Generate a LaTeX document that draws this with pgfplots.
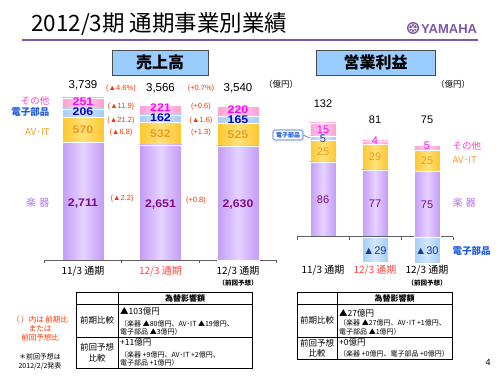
\documentclass[border=0pt]{standalone}
\usepackage{pgfplots}
\pgfplotsset{compat=1.18}
\usepackage{fontspec}
\setmainfont{Liberation Sans}
\newfontfamily\jp{Noto Sans CJK JP}
\newfontfamily\wide[FakeStretch=1.12]{Liberation Sans}
\newcommand\fs[1]{\fontsize{#1pt}{#1pt}\selectfont}
\definecolor{gakkiL}{HTML}{E6D2FF}
\definecolor{gakkiD}{HTML}{C39BF5}
\definecolor{avL}{HTML}{FFE27A}
\definecolor{avD}{HTML}{FFC62E}
\definecolor{elecL}{HTML}{D2E8FF}
\definecolor{elecD}{HTML}{A6CCF7}
\definecolor{othL}{HTML}{FFD2EC}
\definecolor{othD}{HTML}{FF9FD2}
\definecolor{numpurple}{HTML}{7A0A8C}
\definecolor{numblue}{HTML}{0000CC}
\definecolor{opblue}{HTML}{1A3A9A}
\definecolor{numorange}{HTML}{EE9A1E}
\definecolor{nummag}{HTML}{FF00FF}
\definecolor{labpink}{HTML}{FF44CC}
\definecolor{labblue}{HTML}{1E5AE6}
\definecolor{laborange}{HTML}{F5A030}
\definecolor{labpurple}{HTML}{B070F0}
\definecolor{redpct}{HTML}{FF3300}
\definecolor{redcat}{HTML}{FF4848}
\definecolor{axisgray}{HTML}{606060}
\definecolor{yampurple}{HTML}{7E57A8}
\definecolor{boxblue}{HTML}{99CCFF}
\pgfplotsset{
  salesax/.style={at={(44.25pt,115pt)}, anchor=south west, x=77.5pt, y=0.0434pt,
    xmin=-0.5, xmax=2.5, ymin=0, ymax=4100, ybar stacked, bar width=42pt, clip=false},
  opax/.style={at={(297pt,138.3pt)}, anchor=south west, x=52pt, y=0.87pt,
    xmin=-0.5, xmax=2.5, ymin=0, ymax=160, ybar stacked, bar width=26pt, clip=false},
  hidden/.style={axis lines=none},
  shown/.style={axis x line*=bottom, axis y line=none, xtick={-0.5,0.5,1.5,2.5}, xticklabels={},
    tick align=outside, major tick length=3pt,
    x axis line style={draw=axisgray, line width=0.8pt},
    xtick style={draw=axisgray, line width=0.8pt}},
  gakki/.style={draw=white, line width=0.3pt, left color=gakkiD, right color=gakkiD, middle color=gakkiL},
  av/.style={draw=white, line width=0.3pt, left color=avD, right color=avD, middle color=avL},
  elec/.style={draw=white, line width=0.3pt, left color=elecD, right color=elecD, middle color=elecL},
  oth/.style={draw=white, line width=0.3pt, left color=othD, right color=othD, middle color=othL},
}
\begin{document}
\begin{tikzpicture}
\fill[white] (0,0) rectangle (500pt,375pt);
\useasboundingbox (0,0) rectangle (500pt,375pt);

% ---------------- Sales chart: one axis per bar (per-bar shading) ----------------
\begin{axis}[salesax, hidden]
\addplot[gakki] coordinates {(0,2711)};
\addplot[av]    coordinates {(0,570)};
\addplot[elec]  coordinates {(0,206)};
\addplot[oth]   coordinates {(0,251)};
\end{axis}
\begin{axis}[salesax, hidden]
\addplot[gakki] coordinates {(1,2651)};
\addplot[av]    coordinates {(1,532)};
\addplot[elec]  coordinates {(1,162)};
\addplot[oth]   coordinates {(1,221)};
\end{axis}
\begin{axis}[salesax, shown]
\addplot[gakki] coordinates {(2,2630)};
\addplot[av]    coordinates {(2,525)};
\addplot[elec]  coordinates {(2,165)};
\addplot[oth]   coordinates {(2,220)};
\end{axis}

% ---------------- Operating profit: negative bars ----------------
\begin{axis}[at={(297pt,138.3pt)}, anchor=north west, x=52pt, y=0.87pt,
  xmin=-0.5, xmax=2.5, ymin=-40, ymax=0,
  axis lines=none, ybar, bar width=26pt, bar shift=0pt, clip=false]
\addplot[elec] coordinates {(1,-29)};
\addplot[elec] coordinates {(2,-30)};
\end{axis}

% ---------------- Operating profit: positive stacks ----------------
\begin{axis}[opax, hidden]
\addplot[gakki] coordinates {(0,86)};
\addplot[av]    coordinates {(0,25)};
\addplot[elec]  coordinates {(0,5)};
\addplot[oth]   coordinates {(0,15)};
\end{axis}
\begin{axis}[opax, hidden]
\addplot[gakki] coordinates {(1,77)};
\addplot[av]    coordinates {(1,29)};
\addplot[oth]   coordinates {(1,4)};
\end{axis}
\begin{axis}[opax, shown]
\addplot[gakki] coordinates {(2,75)};
\addplot[av]    coordinates {(2,25)};
\addplot[oth]   coordinates {(2,5)};
\end{axis}

% ---------------- Text and decorations (pixel coordinates) ----------------
\begin{scope}[yshift=375pt, x=1pt, y=-1pt]
% title
\node[anchor=west, font=\jp\fs{22.5}, inner sep=0] at (31,24.5) {2012/3期 通期事業別業績};
\draw[line width=2pt, yampurple] (22,40) -- (478,40);
% logo
\fill[yampurple] (413,28) circle (6);
\draw[white, line width=0.5pt] (413,28) circle (4.3);
\foreach \a in {0,60,120} \draw[white, line width=0.6pt] ([shift={(413,28)}]\a:4.3) -- ([shift={(413,28)}]\a+180:4.3);
\node[anchor=west, font=\bfseries\fs{13}, text=yampurple, inner sep=0] at (421,29) {YAMAHA};
% heading boxes
\draw[fill=boxblue, draw=black!70, line width=0.8pt] (112,50) rectangle (208,75);
\node[font=\jp\bfseries\fs{16}] at (160,62.5) {売上高};
\draw[fill=boxblue, draw=black!70, line width=0.8pt] (316,50) rectangle (435,75);
\node[font=\jp\bfseries\fs{16}] at (375.5,62.5) {営業利益};
% units
\node[font=\jp\fs{8.5}] at (281,84) {（億円）};
\node[font=\jp\fs{8.5}] at (453,84) {（億円）};
% sales segment labels
\begin{scope}[every node/.style={font=\wide\bfseries\fs{11}, inner sep=0}]
\node[text=numpurple] at (83,204) {2,711};
\node[text=numpurple] at (160.5,205) {2,651};
\node[text=numpurple] at (238,205) {2,630};
\node[text=numorange] at (83,130) {570};
\node[text=numorange] at (160.5,134) {532};
\node[text=numorange] at (238,135) {525};
\node[text=numblue] at (83,112) {206};
\node[text=numblue] at (160.5,118) {162};
\node[text=numblue] at (238,119.5) {165};
\node[text=nummag] at (83,101.5) {251};
\node[text=nummag] at (160.5,107.5) {221};
\node[text=nummag] at (238,110) {220};
\end{scope}
\node[font=\fs{11.5}] at (83,85) {3,739};
\node[font=\fs{11.5}] at (160.5,88) {3,566};
\node[font=\fs{11.5}] at (238,88) {3,540};
% operating profit labels
\begin{scope}[every node/.style={font=\fs{11}, inner sep=0}]
\node[text=numpurple] at (323,200) {86};
\node[text=numpurple] at (375,204) {77};
\node[text=numpurple] at (427,205) {75};
\node[text=numorange] at (323,152) {25};
\node[text=numorange] at (375,157) {29};
\node[text=numorange] at (427,161) {25};
\node[text=opblue] at (323,139) {5};
\node[text=nummag] at (323,129.5) {15};
\node[text=nummag] at (375,141) {4};
\node[text=nummag] at (427,146) {5};
\node at (323,104) {132};
\node at (375,120) {81};
\node at (427,120) {75};
\node[text=opblue] at (375,251) {▲29};
\node[text=opblue] at (427,251) {▲30};
\end{scope}
% left legend
\node[anchor=east, font=\jp\fs{9.5}, text=labpink] at (53,101) {その他};
\node[anchor=east, font=\jp\bfseries\fs{9.5}, text=labblue] at (53,112) {電子部品};
\node[anchor=east, font=\jp\fs{9.5}, text=laborange] at (53,132) {AV･IT};
\node[anchor=east, font=\jp\fs{10}, text=labpurple] at (53,203) {楽\,\,器};
% right legend
\node[anchor=west, font=\jp\fs{9.5}, text=labpink] at (449,146) {その他};
\node[anchor=west, font=\jp\fs{9.5}, text=laborange] at (449,160) {AV･IT};
\node[anchor=west, font=\jp\fs{10}, text=labpurple] at (449,203) {楽\,\,器};
\node[anchor=west, font=\jp\bfseries\fs{9.5}, text=labblue] at (449,251) {電子部品};
% callout
\draw[labblue, line width=0.5pt] (303,135) -- (310,138);
\draw[draw=labblue, fill=white, rounded corners=1.5pt, line width=0.6pt] (273,130) rectangle (303,140);
\node[font=\jp\bfseries\fs{6}, text=labblue] at (288,135) {電子部品};
% percentage labels
\begin{scope}[every node/.style={font=\fs{7.5}, text=redpct}]
\node at (121,89) {(▲4.6\%)};
\node at (121,107) {(▲11.9)};
\node at (121,121) {(▲21.2)};
\node at (121,133) {(▲6.8)};
\node at (122,199) {(▲2.2)};
\node at (201,89) {(+0.7\%)};
\node at (201,107) {(+0.6)};
\node at (201,121) {(▲1.6)};
\node at (201,133) {(+1.3)};
\node at (196,201) {(+0.8)};
\end{scope}
% category labels
\begin{scope}[every node/.style={font=\jp\fs{10}}]
\node at (83,271) {11/3 通期};
\node[text=redcat] at (160.5,271) {12/3 通期};
\node at (238,271) {12/3 通期};
\node at (323,270) {11/3 通期};
\node[text=redcat] at (375,270) {12/3 通期};
\node at (427,270) {12/3 通期};
\end{scope}
\node[font=\jp\bfseries\fs{6.5}] at (238,283) {（前回予想）};
\node[font=\jp\bfseries\fs{6.5}] at (427,283) {（前回予想）};
% left table
\draw[line width=1pt] (76,292) rectangle (252,368);
\draw[line width=0.8pt] (118,292) -- (118,368) (76,304) -- (252,304) (76,337) -- (252,337);
\node[font=\jp\bfseries\fs{8}] at (185,298) {為替影響額};
\node[font=\jp\fs{8.5}] at (97,320) {前期比較};
\node[font=\jp\fs{8.5}] at (97,347) {前回予想};
\node[font=\jp\fs{8.5}] at (97,358) {比較};
\begin{scope}[every node/.style={anchor=west, inner sep=0}]
\node[font=\jp\fs{8.5}] at (120,311) {▲103億円};
\node[font=\jp\fs{7}] at (120,324) {（楽器 ▲80億円、AV･IT ▲19億円、};
\node[font=\jp\fs{7}] at (120,332) {電子部品 ▲3億円）};
\node[font=\jp\fs{8.5}] at (120,342) {+11億円};
\node[font=\jp\fs{7}] at (120,355) {（楽器 +9億円、AV･IT +2億円、};
\node[font=\jp\fs{7}] at (120,363) {電子部品 +1億円）};
\end{scope}
% right table
\draw[line width=1pt] (297,292) rectangle (452,359);
\draw[line width=0.8pt] (337,292) -- (337,359) (297,304) -- (452,304) (297,337) -- (452,337);
\node[font=\jp\bfseries\fs{8}] at (394.5,298) {為替影響額};
\node[font=\jp\fs{8.5}] at (317,320) {前期比較};
\node[font=\jp\fs{8.5}] at (317,343) {前回予想};
\node[font=\jp\fs{8.5}] at (317,353) {比較};
\begin{scope}[every node/.style={anchor=west, inner sep=0}]
\node[font=\jp\fs{8.5}] at (339,313) {▲27億円};
\node[font=\jp\fs{7}] at (339,323) {（楽器 ▲27億円、AV･IT +1億円、};
\node[font=\jp\fs{7}] at (339,332) {電子部品 ▲1億円）};
\node[font=\jp\fs{8.5}] at (339,342) {+0億円};
\node[font=\jp\fs{7}] at (339,354) {（楽器 +0億円、電子部品 +0億円）};
\end{scope}
% notes
\node[font=\jp\fs{7.5}, text=redpct] at (40,320) {（ ）内は 前期比};
\node[font=\jp\fs{7.5}, text=redpct] at (40,329) {または};
\node[font=\jp\fs{7.5}, text=redpct] at (40,338) {前回予想比};
\node[font=\jp\fs{7}] at (40,357) {＊前回予想は};
\node[font=\jp\fs{7}] at (40,366) {2012/2/2発表};
\node[font=\fs{9}] at (488,362) {4};
\end{scope}
\end{tikzpicture}
\end{document}
